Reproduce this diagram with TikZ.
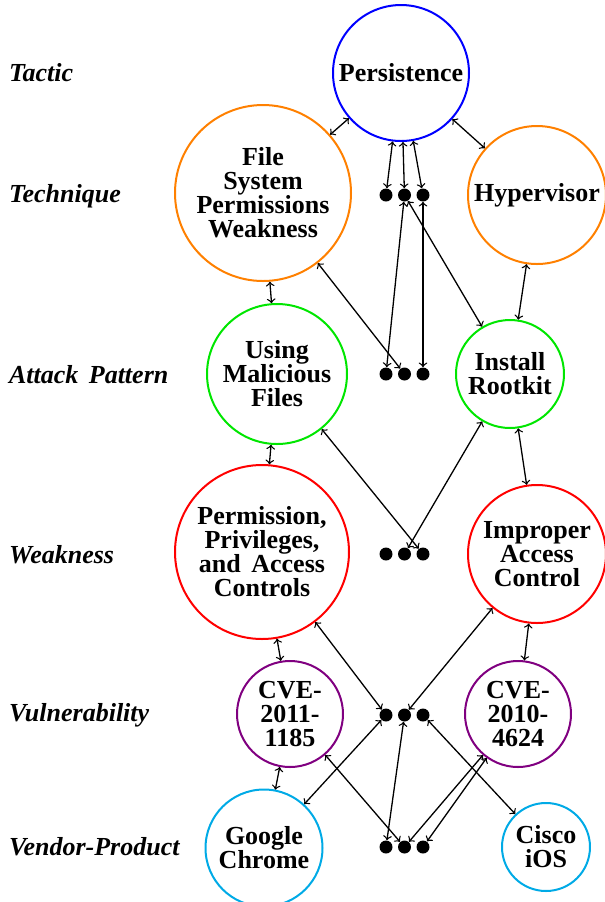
\documentclass[tikz,border=0pt]{standalone}
\usepackage{fontspec}
\setmainfont{Liberation Serif}
\usetikzlibrary{arrows}
\usetikzlibrary{positioning}

\definecolor{tacblue}{RGB}{0,0,255}
\definecolor{tecorange}{RGB}{255,128,0}
\definecolor{apgreen}{RGB}{0,230,0}
\definecolor{wkred}{RGB}{255,0,0}
\definecolor{vulpurple}{RGB}{128,0,128}
\definecolor{vpcyan}{RGB}{0,170,230}

\begin{document}
\begin{tikzpicture}[line cap=round,line join=round,>=to,x=0.5pt,y=-0.5pt,
  ent/.style={circle,draw,line width=1pt,inner sep=0pt,align=center,font=\fontsize{13}{12}\selectfont\bfseries},
  dotnode/.style={circle,fill=black,inner sep=0pt,minimum size=6.5pt},
  lvl/.style={anchor=base west,font=\fontsize{13}{15}\selectfont\bfseries\itshape},
  link/.style={<->,line width=0.65pt}]
\useasboundingbox (0,0) rectangle (605,902);
% level names
\node[lvl] (ltac) at (2,81) {Tactic};
\node[lvl] (ltec) at (2,202) {Technique};
\node[lvl] (lap) at (2,383) {Attack\hspace{2pt} Pattern};
\node[lvl] (lwk) at (2,563) {Weakness};
\node[lvl] (lvul) at (2,721) {Vulnerability};
\node[lvl] (lvp) at (2,855) {Vendor-Product};
% entities
\node[ent,draw=tacblue,minimum size=68pt] (pers) at (401,73) {Persistence};
\node[ent,draw=tecorange,minimum size=88pt] (fspw) at (263,193) {File\\System\\Permissions\\Weakness};
\node[ent,draw=tecorange,minimum size=69pt] (hyper) at (537,195) {Hypervisor};
\node[ent,draw=apgreen,minimum size=70pt] (umf) at (277,374) {Using\\Malicious\\Files};
\node[ent,draw=apgreen,minimum size=54pt] (rootkit) at (510,374) {Install\\Rootkit};
\node[ent,draw=wkred,minimum size=87pt] (pac) at (262,552) {Permission,\\Privileges,\\and\hspace{2pt} Access\\Controls};
\node[ent,draw=wkred,minimum size=69pt] (iac) at (537,554) {Improper\\Access\\Control};
\node[ent,draw=vulpurple,minimum size=53pt] (cvea) at (290,714) {CVE-\\2011-\\1185};
\node[ent,draw=vulpurple,minimum size=53pt] (cveb) at (518,714) {CVE-\\2010-\\4624};
\node[ent,draw=vpcyan,minimum size=58.5pt] (chrome) at (264,848) {Google\\Chrome};
\node[ent,draw=vpcyan,minimum size=44pt] (cisco) at (546,847) {Cisco\\iOS};
% the three dots of each level
\foreach \r/\y in {1/195,2/374,3/554,4/715,5/847}
  \foreach \c/\x in {1/386,2/404.5,3/423}
    \node[dotnode] (d\r\c) at (\x,\y) {};
% links
\draw[link] (pers) -- (fspw);
\draw[link] (pers) -- (hyper);
\draw[link] (pers) -- (d11);
\draw[link] (pers) -- (d12);
\draw[link] (pers) -- (d13);
\draw[link] (fspw) -- (umf);
\draw[link] (fspw) -- (d22);
\draw[link] (d12) -- (d21);
\draw[link] (d12) -- (rootkit);
\draw[link] (d13) -- (d23);
\draw[link] (hyper) -- (rootkit);
\draw[link] (umf) -- (pac);
\draw[link] (umf) -- (d33);
\draw[link] (rootkit) -- (d32);
\draw[link] (rootkit) -- (iac);
\draw[link] (pac) -- (cvea);
\draw[link] (pac) -- (d41);
\draw[link] (iac) -- (d42);
\draw[link] (iac) -- (cveb);
\draw[link] (cvea) -- (chrome);
\draw[link] (d41) -- (chrome);
\draw[link] (cvea) -- (d52);
\draw[link] (d42) -- (d51);
\draw[link] (d43) -- (cisco);
\draw[link] (cveb) -- (d52);
\draw[link] (cveb) -- (d53);
\end{tikzpicture}
\end{document}
